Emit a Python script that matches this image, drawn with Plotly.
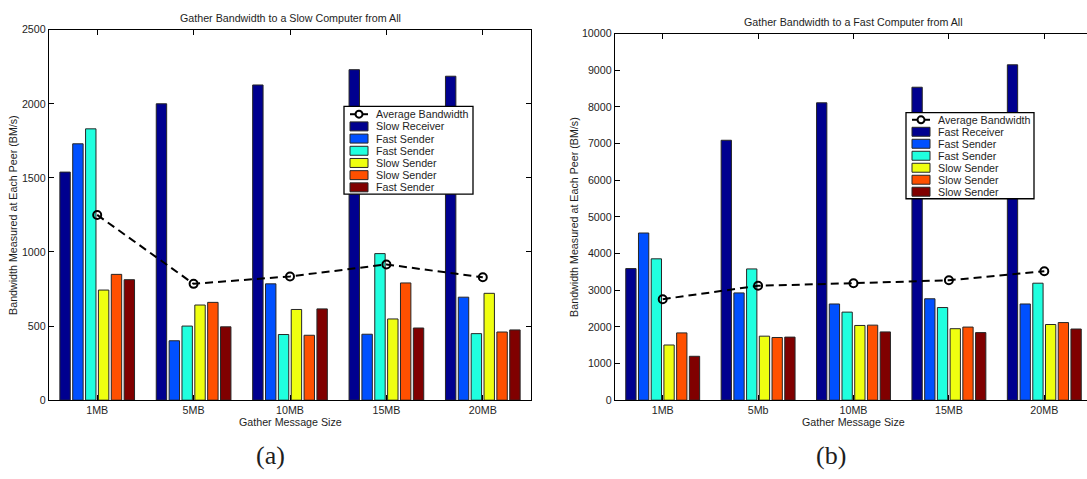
import plotly.graph_objects as go

W, H = 1087, 479

# message sizes on the category axes
sizes_a = ["1MB", "5MB", "10MB", "15MB", "20MB"]
sizes_b = ["1MB", "5Mb", "10MB", "15MB", "20MB"]

# (a) gather to a slow computer, bandwidth per peer (BM/s)
slow_receiver_a = [1539, 2000, 2127, 2230, 2186]
fast_sender1_a = [1730, 401, 785, 445, 695]
fast_sender2_a = [1831, 500, 443, 989, 449]
slow_sender1_a = [743, 642, 612, 548, 721]
slow_sender2_a = [849, 660, 438, 791, 460]
fast_sender3_a = [813, 495, 616, 487, 474]
average_a = [1250, 785, 835, 916, 829]

# (b) gather to a fast computer, bandwidth per peer (BM/s)
fast_receiver_b = [3590, 7090, 8112, 8537, 9149]
fast_sender1_b = [4560, 2926, 2624, 2766, 2624]
fast_sender2_b = [3856, 3580, 2402, 2527, 3191]
slow_sender1_b = [1505, 1746, 2038, 1950, 2064]
slow_sender2_b = [1835, 1710, 2047, 1994, 2117]
slow_sender3_b = [1197, 1720, 1862, 1843, 1941]
average_b = [2755, 3120, 3191, 3271, 3519]

names_a = ["Slow Receiver", "Fast Sender", "Fast Sender", "Slow Sender", "Slow Sender", "Fast Sender"]
names_b = ["Fast Receiver", "Fast Sender", "Fast Sender", "Slow Sender", "Slow Sender", "Slow Sender"]
avg_name = "Average Bandwidth"

titles = ["Gather Bandwidth to a Slow Computer from All",
          "Gather Bandwidth to a Fast Computer from All"]
x_title = "Gather Message Size"
y_title = "Bandwidth Measured at Each Peer (BM/s)"
panel_tags = ["(a)", "(b)"]

# jet-style colours for the six peers
colors = ["#00008F", "#0050FF", "#20FFDF", "#EFFF10", "#FF5000", "#800000"]

SANS = "Liberation Sans, Arial, Helvetica, sans-serif"
SERIF = "Liberation Serif, Times New Roman, serif"
TXT = "#1e1e1e"
FS = 10.7


def px(x):
    return x / W


def py(y):
    return 1 - y / H


series_a = [slow_receiver_a, fast_sender1_a, fast_sender2_a,
            slow_sender1_a, slow_sender2_a, fast_sender3_a]
series_b = [fast_receiver_b, fast_sender1_b, fast_sender2_b,
            slow_sender1_b, slow_sender2_b, slow_sender3_b]

fig = go.Figure()


def add_panel(cats, series, names, avg, xa, ya):
    for vals, name, col in zip(series, names, colors):
        fig.add_trace(go.Bar(
            x=cats, y=vals, name=name, xaxis=xa, yaxis=ya, showlegend=False,
            marker=dict(color=col, line=dict(color="#262626", width=1)),
        ))
    fig.add_trace(go.Scatter(
        x=cats, y=avg, name=avg_name, xaxis=xa, yaxis=ya, showlegend=False,
        mode="lines+markers",
        line=dict(color="black", width=2, dash="8px,5px"),
        marker=dict(symbol="circle-open", size=8, color="black",
                    line=dict(color="black", width=2)),
    ))


add_panel(sizes_a, series_a, names_a, average_a, "x", "y")
add_panel(sizes_b, series_b, names_b, average_b, "x2", "y2")

axis_common = dict(
    showline=True, linecolor="black", linewidth=1.4,
    ticks="inside", ticklen=5, tickwidth=1, tickcolor="black",
    showgrid=False, zeroline=False,
    tickfont=dict(family=SANS, size=FS, color=TXT),
)

# plot areas in pixels
left_top, left_bot = 24.3, 404.3
right_top, right_bot = 28.3, 404.3
left_x0, left_x1 = 49, 531
right_x0 = 615
right_unit = 95.4  # px per category on the right panel

fig.update_layout(
    width=W, height=H,
    margin=dict(l=0, r=0, t=0, b=0),
    paper_bgcolor="white", plot_bgcolor="white",
    barmode="group", bargap=0.2, bargroupgap=0.19,
    showlegend=False,
    font=dict(family=SANS, size=FS, color=TXT),
    xaxis=dict(domain=[px(left_x0), px(left_x1)], anchor="y", type="category",
               range=[-0.5, 4.5], mirror="ticks", **axis_common),
    yaxis=dict(domain=[py(left_bot), py(left_top)], anchor="x",
               range=[0, 2500], dtick=500, tickformat="d",
               mirror="ticks", **axis_common),
    xaxis2=dict(domain=[px(right_x0), 1.0], anchor="y2", type="category",
                range=[-0.5, -0.5 + (W - right_x0) / right_unit],
                mirror="ticks", **axis_common),
    yaxis2=dict(domain=[py(right_bot), py(right_top)], anchor="x2",
                range=[0, 10000], dtick=1000, tickformat="d",
                mirror=False, **axis_common),
)

annotations = []
shapes = []


def text(x, y, s, size=FS, family=SANS, anchor="center", angle=0):
    annotations.append(dict(
        x=px(x), y=py(y), xref="paper", yref="paper", text=s, showarrow=False,
        xanchor=anchor, yanchor="middle", textangle=angle,
        font=dict(family=family, size=size, color=TXT),
    ))


# titles, axis titles and panel tags
text(290, 12.7, titles[0])
text(853.7, 16, titles[1])
text(290, 427, x_title)
text(853.7, 427, x_title)
text(13, (left_top + left_bot) / 2, y_title, angle=-90)
text(574, (right_top + right_bot) / 2, y_title, angle=-90)
text(270, 461, panel_tags[0], size=26, family=SERIF)
text(831, 461, panel_tags[1], size=26, family=SERIF)


def legend_box(x0, x1, y0, y1, row0, step, names):
    shapes.append(dict(type="rect", xref="paper", yref="paper",
                       x0=px(x0), x1=px(x1), y0=py(y1), y1=py(y0),
                       line=dict(color="black", width=1.3), fillcolor="white"))
    sx0, sx1 = x0 + 6, x0 + 24
    tx = x0 + 30
    # average bandwidth entry: line with open circle
    shapes.append(dict(type="line", xref="paper", yref="paper",
                       x0=px(sx0), x1=px(sx1), y0=py(row0), y1=py(row0),
                       line=dict(color="black", width=2)))
    cx = (sx0 + sx1) / 2
    shapes.append(dict(type="circle", xref="paper", yref="paper",
                       x0=px(cx - 3.5), x1=px(cx + 3.5),
                       y0=py(row0 + 3.5), y1=py(row0 - 3.5),
                       line=dict(color="black", width=2), fillcolor="white"))
    text(tx, row0, avg_name, anchor="left")
    for i, (name, col) in enumerate(zip(names, colors)):
        ry = row0 + step * (i + 1)
        shapes.append(dict(type="rect", xref="paper", yref="paper",
                           x0=px(sx0), x1=px(sx1),
                           y0=py(ry + 4.6), y1=py(ry - 4.6),
                           line=dict(color="#262626", width=1), fillcolor=col))
        text(tx, ry, name, anchor="left")


legend_box(344, 473, 103, 193, 111, 12.5, names_a)
legend_box(906, 1034, 109.3, 197.7, 116.7, 12.3, names_b)

fig.update_layout(annotations=annotations, shapes=shapes)

fig.write_html("out.html")
